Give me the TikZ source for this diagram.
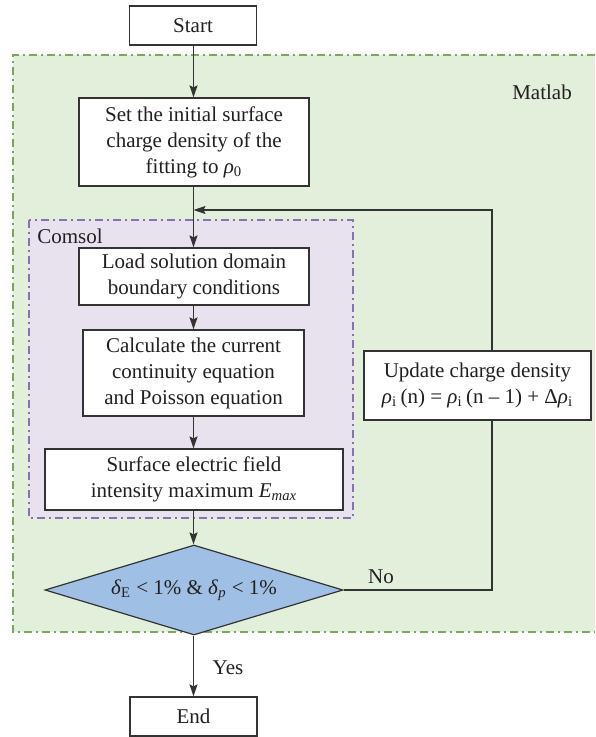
\documentclass[tikz,border=0pt]{standalone}
\usepackage{fontspec}
\setmainfont{Liberation Serif}
\usetikzlibrary{arrows.meta,shapes.geometric,calc}
\definecolor{greenfill}{HTML}{E2EFDA}
\definecolor{greenline}{HTML}{7BA85A}
\definecolor{purplefill}{HTML}{E8E2EF}
\definecolor{purpleline}{HTML}{8B6FB5}
\definecolor{diafill}{HTML}{9FC0E4}
\definecolor{linec}{HTML}{333333}
\definecolor{textc}{HTML}{231F20}
\tikzset{
  txt/.style={font=\fontsize{10.5}{13}\selectfont, text=textc, inner sep=0pt},
  box/.style={txt, draw=linec, fill=white, line width=0.6pt, align=center},
  conn/.style={draw=linec, line width=0.6pt},
  arr/.style={conn, -{Stealth[length=6pt,width=4pt,inset=1pt]}},
  regionline/.style={line width=0.65pt, dash pattern=on 4pt off 2pt on 1pt off 2pt},
}
\begin{document}
\begin{tikzpicture}[x=0.5pt,y=-0.5pt]
\useasboundingbox (0,0) rectangle (595,737);
% Matlab region
\fill[greenfill] (13,55) rectangle (595,632);
\draw[regionline, draw=greenline] (595,55) -- (13,55) -- (13,632) -- (595,632);
\node[txt, anchor=center] (matlab) at (542,92) {Matlab};
% Comsol region
\draw[regionline, draw=purpleline, fill=purplefill] (29,220) rectangle (353,518);
\node[txt, anchor=west] (comsol) at (37,236) {Comsol};
% nodes
\node[box, minimum width=63.5pt, minimum height=19.5pt] (start) at (193,25.5) {Start};
\node[box, minimum width=115pt, minimum height=44pt] (set) at (194,142) {Set the initial surface\\charge density of the\\fitting to \textit{ρ}\textsubscript{0}};
\node[box, minimum width=115pt, minimum height=28.5pt] (load) at (194,276.5) {Load solution domain\\boundary conditions};
\node[box, minimum width=110.5pt, minimum height=43pt] (calc) at (193.5,373) {Calculate the current\\continuity equation\\and Poisson equation};
\node[box, minimum width=149pt, minimum height=30.5pt] (surf) at (194,479.5) {Surface electric field\\intensity maximum \textit{E}\textsubscript{\textit{max}}};
\node[txt, shape=diamond, draw=linec, fill=diafill, line width=0.6pt, aspect=3.3, minimum width=149pt, minimum height=45pt] (dia) at (194,590) {\textit{δ}\textsubscript{E} < 1\% \& \textit{δ}\textsubscript{\textit{p}} < 1\%};
\node[box, minimum width=113.5pt, minimum height=34.5pt] (upd) at (477.5,385.5) {Update charge density\\\textit{ρ}\textsubscript{i}\,(n) = \textit{ρ}\textsubscript{i}\,(n – 1) + Δ\textit{ρ}\textsubscript{i}};
\node[box, minimum width=63.5pt, minimum height=19.5pt] (endn) at (193.5,716.5) {End};
% labels
\node[txt] (no) at (381,577) {No};
\node[txt] (yes) at (228,668) {Yes};
% coordinates
\coordinate (join) at (193.5,210);
\coordinate (c1) at (492,590);
% connectors
\draw[arr] (start.south -| join) -- (set.north -| join);
\draw[arr] (set.south -| join) -- (load.north -| join);
\draw[arr] (load.south -| join) -- (calc.north -| join);
\draw[arr] (calc.south -| join) -- (surf.north -| join);
\draw[arr] (surf.south -| join) -- (dia.north -| join);
\draw[arr] (dia.south -| join) -- (endn.north -| join);
\draw[conn] (dia.east) -- (c1) -- (upd.south -| c1);
\draw[arr] (upd.north -| c1) |- (join);
\end{tikzpicture}
\end{document}
